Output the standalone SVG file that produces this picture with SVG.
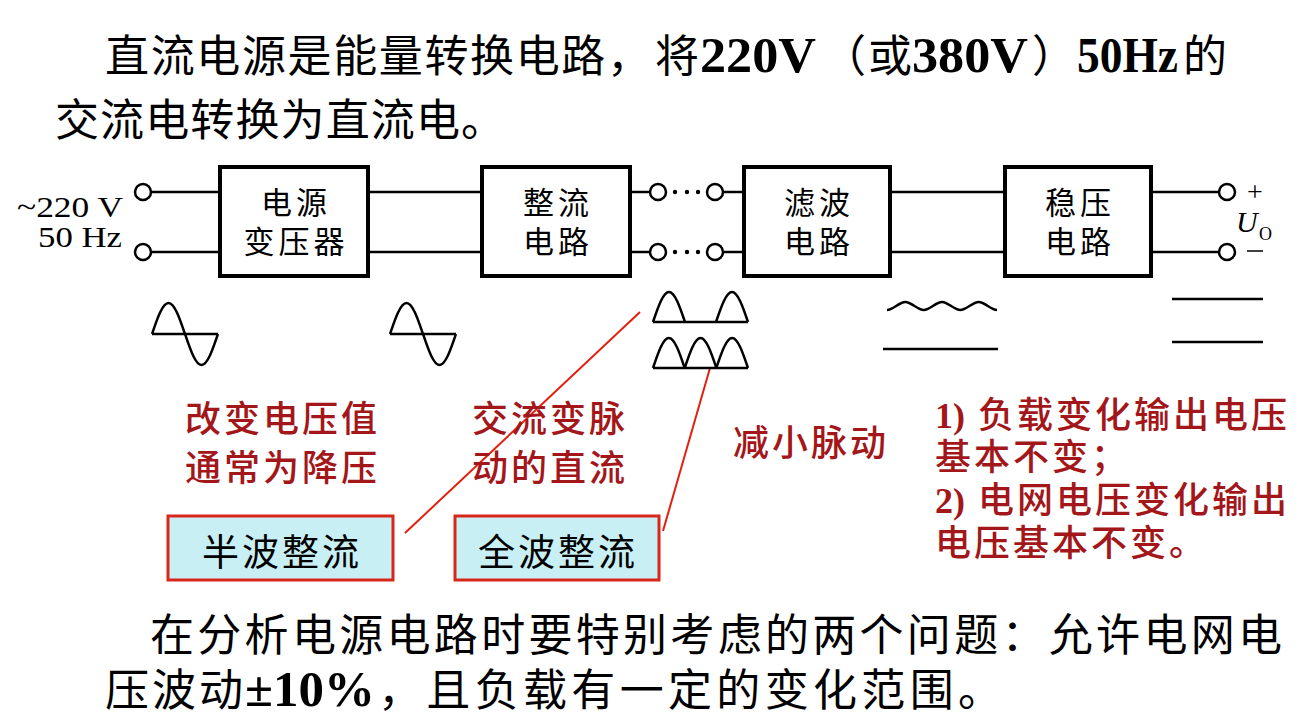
<svg xmlns="http://www.w3.org/2000/svg" xmlns:xlink="http://www.w3.org/1999/xlink" width="1301" height="721" viewBox="0 0 1301 721">
<style>
.cjk{font-family:"Noto Sans CJK SC","Noto Sans CJK JP",sans-serif;}
.ser{font-family:"Liberation Serif","DejaVu Serif",serif;}
.big{font-size:44px;fill:#000;}
.lat{font-family:"Liberation Serif",serif;font-weight:bold;font-size:50px;fill:#000;}
.box{fill:#fff;stroke:#000;stroke-width:4;}
.lbl{font-size:31px;fill:#000;text-anchor:middle;letter-spacing:4px;}
.w{stroke:#000;stroke-width:2.5;fill:none;}
.term{fill:#fff;stroke:#000;stroke-width:2.5;}
.red{font-size:36px;fill:#a3161a;letter-spacing:3px;font-weight:500;}
.num{font-family:"Liberation Serif",serif;font-size:36px;font-weight:bold;fill:#a3161a;}
.rbox{fill:#c8f0f4;stroke:#d9261c;stroke-width:3;}
.rtxt{font-size:37px;fill:#000;text-anchor:middle;letter-spacing:3px;}
.rl{stroke:#e3200f;stroke-width:2;fill:none;}
</style>
<defs>
<path id="sine" d="M152,334 C157.4,318.1 162.5,303 168.5,303 C174.5,303 179.6,318.1 185,334 C190.4,349.9 195.5,365 201.5,365 C207.5,365 212.6,349.9 218,334"/>
<path id="hump" d="M0,0 C5.2,-15.4 10.2,-30 16,-30 C21.8,-30 26.8,-15.4 32,0"/>
</defs>
<rect width="1301" height="721" fill="#fff"/>

<g id="title">
<text class="cjk big" x="105" y="72" textLength="546" lengthAdjust="spacing">直流电源是能量转换电路，</text>
<text class="cjk big" x="655" y="72">将</text>
<text class="lat" x="700" y="72" textLength="116" lengthAdjust="spacingAndGlyphs">220V</text>
<text class="cjk big" x="822" y="72">（</text>
<text class="cjk big" x="868" y="72">或</text>
<text class="lat" x="912" y="72" textLength="116" lengthAdjust="spacingAndGlyphs">380V</text>
<text class="cjk big" x="1032" y="72">）</text>
<text class="lat" x="1077" y="72" textLength="101" lengthAdjust="spacingAndGlyphs">50Hz</text>
<text class="cjk big" x="1183" y="72">的</text>
<text class="cjk big" x="55" y="136" textLength="450" lengthAdjust="spacing">交流电转换为直流电。</text>
</g>

<g id="input">
<text class="ser" x="123" y="217" font-size="29" text-anchor="end" textLength="106" lengthAdjust="spacingAndGlyphs">~220 V</text>
<text class="ser" x="122" y="247" font-size="29" text-anchor="end" textLength="84" lengthAdjust="spacingAndGlyphs">50 Hz</text>
<circle class="term" cx="143" cy="192" r="8"/>
<circle class="term" cx="143" cy="252" r="8"/>
</g>

<g id="connectors">
<line class="w" x1="151" y1="192" x2="220" y2="192"/>
<line class="w" x1="151" y1="252" x2="220" y2="252"/>
<line class="w" x1="368" y1="192" x2="482" y2="192"/>
<line class="w" x1="368" y1="252" x2="482" y2="252"/>
<line class="w" x1="630" y1="192" x2="650" y2="192"/>
<line class="w" x1="630" y1="252" x2="650" y2="252"/>
<line class="w" x1="723" y1="192" x2="744" y2="192"/>
<line class="w" x1="723" y1="252" x2="744" y2="252"/>
<line class="w" x1="890" y1="192" x2="1005" y2="192"/>
<line class="w" x1="890" y1="252" x2="1005" y2="252"/>
<line class="w" x1="1151" y1="192" x2="1219" y2="192"/>
<line class="w" x1="1151" y1="252" x2="1219" y2="252"/>
<circle class="term" cx="658" cy="192" r="8"/>
<circle class="term" cx="715" cy="192" r="8"/>
<circle class="term" cx="658" cy="252" r="8"/>
<circle class="term" cx="715" cy="252" r="8"/>
<g fill="#000">
<circle cx="675" cy="192" r="2.2"/><circle cx="687" cy="192" r="2.2"/><circle cx="698" cy="192" r="2.2"/>
<circle cx="675" cy="252" r="2.2"/><circle cx="687" cy="252" r="2.2"/><circle cx="698" cy="252" r="2.2"/>
</g>
<line class="rl" x1="405" y1="533" x2="640" y2="312"/>
<line class="rl" x1="663" y1="531" x2="710" y2="368"/>
</g>

<g id="transformer">
<rect class="box" x="220" y="167" width="148" height="109"/>
<text class="cjk lbl" x="296" y="214">电源</text>
<text class="cjk lbl" x="296" y="253">变压器</text>
</g>
<g id="rectifier">
<rect class="box" x="482" y="167" width="148" height="109"/>
<text class="cjk lbl" x="558" y="214">整流</text>
<text class="cjk lbl" x="558" y="253">电路</text>
</g>
<g id="filter">
<rect class="box" x="744" y="167" width="146" height="109"/>
<text class="cjk lbl" x="819" y="214">滤波</text>
<text class="cjk lbl" x="819" y="253">电路</text>
</g>
<g id="regulator">
<rect class="box" x="1005" y="167" width="146" height="109"/>
<text class="cjk lbl" x="1080" y="214">稳压</text>
<text class="cjk lbl" x="1080" y="253">电路</text>
</g>

<g id="output">
<circle class="term" cx="1227" cy="192" r="8"/>
<circle class="term" cx="1227" cy="252" r="8"/>
<text class="ser" x="1255" y="201" font-size="28" text-anchor="middle">+</text>
<text class="ser" x="1236" y="232" font-size="30" font-style="italic">U</text>
<text class="ser" x="1259" y="240" font-size="18">O</text>
<line x1="1247" y1="251" x2="1263" y2="251" stroke="#000" stroke-width="1.5"/>
</g>

<g id="waveforms">
<line class="w" x1="152" y1="334" x2="218" y2="334"/>
<use xlink:href="#sine" href="#sine" class="w"/>
<line class="w" x1="390" y1="334" x2="456" y2="334"/>
<use xlink:href="#sine" href="#sine" class="w" transform="translate(238,0)"/>
<line class="w" x1="653" y1="322" x2="748" y2="322"/>
<use href="#hump" xlink:href="#hump" class="w" transform="translate(653,322)"/>
<use href="#hump" xlink:href="#hump" class="w" transform="translate(716,322)"/>
<line class="w" x1="653" y1="368" x2="748" y2="368"/>
<use href="#hump" xlink:href="#hump" class="w" transform="translate(653,368) scale(0.99,1)"/>
<use href="#hump" xlink:href="#hump" class="w" transform="translate(684.7,368) scale(0.99,1)"/>
<use href="#hump" xlink:href="#hump" class="w" transform="translate(716.3,368) scale(0.99,1)"/>
<path class="w" d="M887,310 C893.1,310 899.2,302 905.3,302 S917.6,310 923.7,310 S935.9,302 942,302 S954.3,310 960.3,310 S972.6,302 978.7,302 S990.9,310 997,310"/>
<line class="w" x1="883" y1="349" x2="998" y2="349"/>
<line class="w" x1="1172" y1="299" x2="1263" y2="299"/>
<line class="w" x1="1172" y1="342" x2="1263" y2="342"/>
</g>

<g id="notes">
<text class="cjk red" x="185" y="432">改变电压值</text>
<text class="cjk red" x="185" y="481">通常为降压</text>
<text class="cjk red" x="472" y="432">交流变脉</text>
<text class="cjk red" x="472" y="481">动的直流</text>
<text class="cjk red" x="733" y="456">减小脉动</text>
<text class="num" x="935" y="428">1)</text>
<text class="cjk red" x="978" y="428">负载变化输出电压</text>
<text class="cjk red" x="935" y="470">基本不变；</text>
<text class="num" x="935" y="513">2)</text>
<text class="cjk red" x="978" y="513">电网电压变化输出</text>
<text class="cjk red" x="935" y="556">电压基本不变。</text>
</g>

<g id="half-wave">
<rect class="rbox" x="168" y="516" width="225" height="64"/>
<text class="cjk rtxt" x="282" y="566">半波整流</text>
</g>
<g id="full-wave">
<rect class="rbox" x="455" y="516" width="204" height="64"/>
<text class="cjk rtxt" x="558" y="566">全波整流</text>
</g>

<g id="footer">
<text class="cjk big" x="150" y="651" textLength="1132" lengthAdjust="spacing">在分析电源电路时要特别考虑的两个问题：允许电网电</text>
<text class="cjk big" x="105" y="706" textLength="138" lengthAdjust="spacing">压波动</text>
<text class="lat" x="245" y="706" font-size="46" textLength="130" lengthAdjust="spacingAndGlyphs">±10%</text>
<text class="cjk big" x="378" y="706" textLength="624" lengthAdjust="spacing">，且负载有一定的变化范围。</text>
</g>
</svg>
